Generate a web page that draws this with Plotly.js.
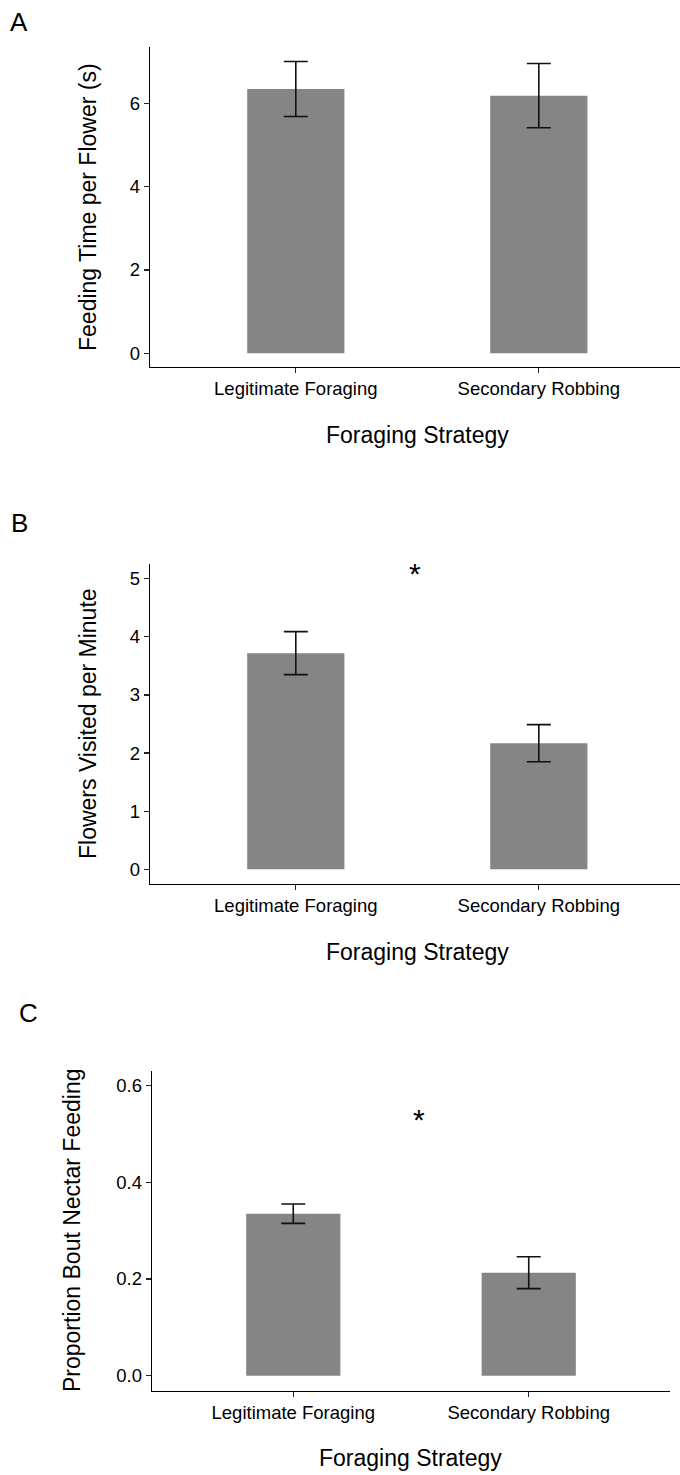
<!DOCTYPE html>
<html>
<head>
<meta charset="utf-8">
<script src="https://cdn.plot.ly/plotly-3.0.1.min.js"></script>
<style>
  html, body { margin: 0; padding: 0; background: #ffffff; }
  #chart { width: 680px; height: 1475px; }
</style>
</head>
<body>
<div id="chart"></div>
<script>
// ---- data ----
const categories = ["Legitimate Foraging", "Secondary Robbing"];

const feedingTime = [6.34, 6.18];
const feedingTimeErr = [0.66, 0.77];

const flowersPerMinute = [3.72, 2.17];
const flowersPerMinuteErr = [0.37, 0.32];

const proportionNectar = [0.335, 0.213];
const proportionNectarErr = [0.020, 0.033];

const yTicksA = [0, 2, 4, 6];
const yTicksB = [0, 1, 2, 3, 4, 5];
const yTicksC = [0.0, 0.2, 0.4, 0.6];

const panelLetters = ["A", "B", "C"];
const yTitles = ["Feeding Time per Flower (s)", "Flowers Visited per Minute", "Proportion Bout Nectar Feeding"];
const xTitle = "Foraging Strategy";
const significance = ["", "*", "*"];

// ---- styling ----
const W = 680, H = 1475;
const FONT = "Liberation Sans, Arial, Helvetica, sans-serif";
const barColor = "#858585";
const px = v => v / W;
const py = v => 1 - v / H;

function barTrace(vals, errs, xa, ya) {
  return {
    type: "bar",
    x: categories,
    y: vals,
    xaxis: xa,
    yaxis: ya,
    width: 0.4,
    marker: { color: barColor, line: { width: 0 } },
    error_y: { type: "data", array: errs, visible: true, color: "#111111", thickness: 1.6, width: 12 },
    hoverinfo: "skip",
    showlegend: false
  };
}

const data = [
  barTrace(feedingTime, feedingTimeErr, "x", "y"),
  barTrace(flowersPerMinute, flowersPerMinuteErr, "x2", "y2"),
  barTrace(proportionNectar, proportionNectarErr, "x3", "y3")
];

function xAxis(domain, range, anchor) {
  return {
    domain: domain, range: range, anchor: anchor, type: "category",
    showline: true, linecolor: "#000", linewidth: 1.3,
    ticks: "outside", ticklen: 5, tickwidth: 1.2, tickcolor: "#222",
    tickfont: { family: FONT, size: 18.5, color: "#000" },
    showgrid: false, zeroline: false, fixedrange: true
  };
}
function yAxis(domain, range, anchor, tickvals, fmt) {
  return {
    domain: domain, range: range, anchor: anchor,
    showline: true, linecolor: "#000", linewidth: 1.3,
    ticks: "outside", ticklen: 5, tickwidth: 1.2, tickcolor: "#222",
    tickvals: tickvals, tickformat: fmt,
    tickfont: { family: FONT, size: 18.5, color: "#000" },
    showgrid: false, zeroline: false, fixedrange: true
  };
}

const annotations = [];
function txt(text, x, y, size, extra) {
  annotations.push(Object.assign({
    text: text, x: x, y: y, xref: "paper", yref: "paper",
    showarrow: false, xanchor: "center", yanchor: "middle",
    font: { family: FONT, size: size, color: "#000" }
  }, extra || {}));
}

// panel letters
txt(panelLetters[0], px(19), py(22), 26);
txt(panelLetters[1], px(19), py(523), 26);
txt(panelLetters[2], px(28), py(1013), 26);

// y titles
txt(yTitles[0], px(88), py(207), 23, { textangle: -90 });
txt(yTitles[1], px(88), py(724), 23, { textangle: -90 });
txt(yTitles[2], px(72), py(1231), 23, { textangle: -90 });

// x titles
txt(xTitle, px(417), py(435), 23);
txt(xTitle, px(417), py(952), 23);
txt(xTitle, px(410), py(1458), 23);

// significance stars
annotations.push({ text: significance[1], x: 0.49, y: 5.1, xref: "x2", yref: "y2", showarrow: false,
  xanchor: "center", yanchor: "middle", font: { family: FONT, size: 30, color: "#000" } });
annotations.push({ text: significance[2], x: 0.536, y: 0.53, xref: "x3", yref: "y3", showarrow: false,
  xanchor: "center", yanchor: "middle", font: { family: FONT, size: 30, color: "#000" } });

const layout = {
  width: W, height: H,
  margin: { l: 0, r: 0, t: 0, b: 0 },
  paper_bgcolor: "#fff", plot_bgcolor: "#fff",
  showlegend: false,
  xaxis: xAxis([150 / W, 1], [-0.6, 1.581], "y"),
  yaxis: yAxis([py(366.7), py(47.3)], [-0.32, 7.34], "x", yTicksA, "d"),
  xaxis2: xAxis([150 / W, 1], [-0.6, 1.581], "y2"),
  yaxis2: yAxis([py(883.7), py(564.3)], [-0.25, 5.25], "x2", yTicksB, "d"),
  xaxis3: xAxis([152 / W, 670 / W], [-0.6, 1.6], "y3"),
  yaxis3: yAxis([py(1390.7), py(1071)], [-0.031, 0.63], "x3", yTicksC, ".1f"),
  annotations: annotations
};

Plotly.newPlot("chart", data, layout, { displayModeBar: false, staticPlot: true });
</script>
</body>
</html>
